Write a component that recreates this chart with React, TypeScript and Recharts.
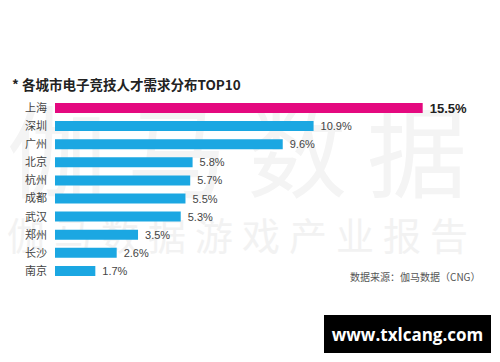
import { Bar, BarChart, Cell, LabelList, XAxis, YAxis } from "recharts";

const cities = ["上海", "深圳", "广州", "北京", "杭州", "成都", "武汉", "郑州", "长沙", "南京"];
const shares = [15.5, 10.9, 9.6, 5.8, 5.7, 5.5, 5.3, 3.5, 2.6, 1.7];

const data = cities.map((city, i) => ({ city, share: shares[i] }));

const FONT = '"Noto Sans CJK SC", "Noto Sans", sans-serif';
const NUM_FONT = '"Liberation Sans", Arial, sans-serif';
const PINK = "#e4097f";
const BLUE = "#1ba7e2";

const ValueLabel = (props: any) => {
  const { x, y, width, height, value, index } = props;
  const top = index === 0;
  return (
    <text
      x={x + width + 7}
      y={y + height / 2}
      dominantBaseline="central"
      fontSize={top ? 13 : 11}
      fontWeight={top ? 700 : 400}
      fill={top ? "#222" : "#444"}
      fontFamily={NUM_FONT}
    >
      {`${value}%`}
    </text>
  );
};

export default function App() {
  return (
    <div style={{ position: "fixed", left: 0, top: 0, width: 500, height: 362, background: "#fff", overflow: "hidden", fontFamily: FONT }}>
      {/* faint watermark */}
      <div style={{ position: "absolute", left: 7, top: 92, fontSize: 100, lineHeight: "110px", letterSpacing: 20, color: "#f4f4f4", whiteSpace: "nowrap" }}>
        伽马数据
      </div>
      <div style={{ position: "absolute", left: 7, top: 212, fontSize: 38, lineHeight: "44px", letterSpacing: 9, color: "#f2f2f2", whiteSpace: "nowrap" }}>
        伽马数据游戏产业报告
      </div>

      <div style={{ position: "absolute", left: 12, top: 74, fontSize: 13.5, fontWeight: 700, color: "#222", whiteSpace: "nowrap" }}>
        * 各城市电子竞技人才需求分布TOP10
      </div>

      <div style={{ position: "absolute", left: 0, top: 0 }}>
        <BarChart
          width={500}
          height={362}
          data={data}
          layout="vertical"
          margin={{ top: 99, right: 18, bottom: 82, left: 0 }}
        >
          <XAxis type="number" domain={[0, 18]} hide />
          <YAxis
            type="category"
            dataKey="city"
            width={55}
            interval={0}
            axisLine={false}
            tickLine={false}
            tick={{ fontSize: 11, fill: "#444", fontFamily: FONT }}
          />
          <Bar dataKey="share" barSize={10} isAnimationActive={false}>
            {data.map((d, i) => (
              <Cell key={d.city} fill={i === 0 ? PINK : BLUE} />
            ))}
            <LabelList dataKey="share" content={ValueLabel} />
          </Bar>
        </BarChart>
      </div>

      <div style={{ position: "absolute", left: 350, top: 269, fontSize: 10, color: "#555", whiteSpace: "nowrap" }}>
        数据来源：伽马数据（CNG）
      </div>

      <div style={{ position: "absolute", left: 324, top: 315, width: 167, height: 38, background: "#000", color: "#fff", display: "flex", alignItems: "center", justifyContent: "center", fontFamily: '"Open Sans", sans-serif', fontWeight: 700, fontSize: 17 }}>
        www.txlcang.com
      </div>
    </div>
  );
}
